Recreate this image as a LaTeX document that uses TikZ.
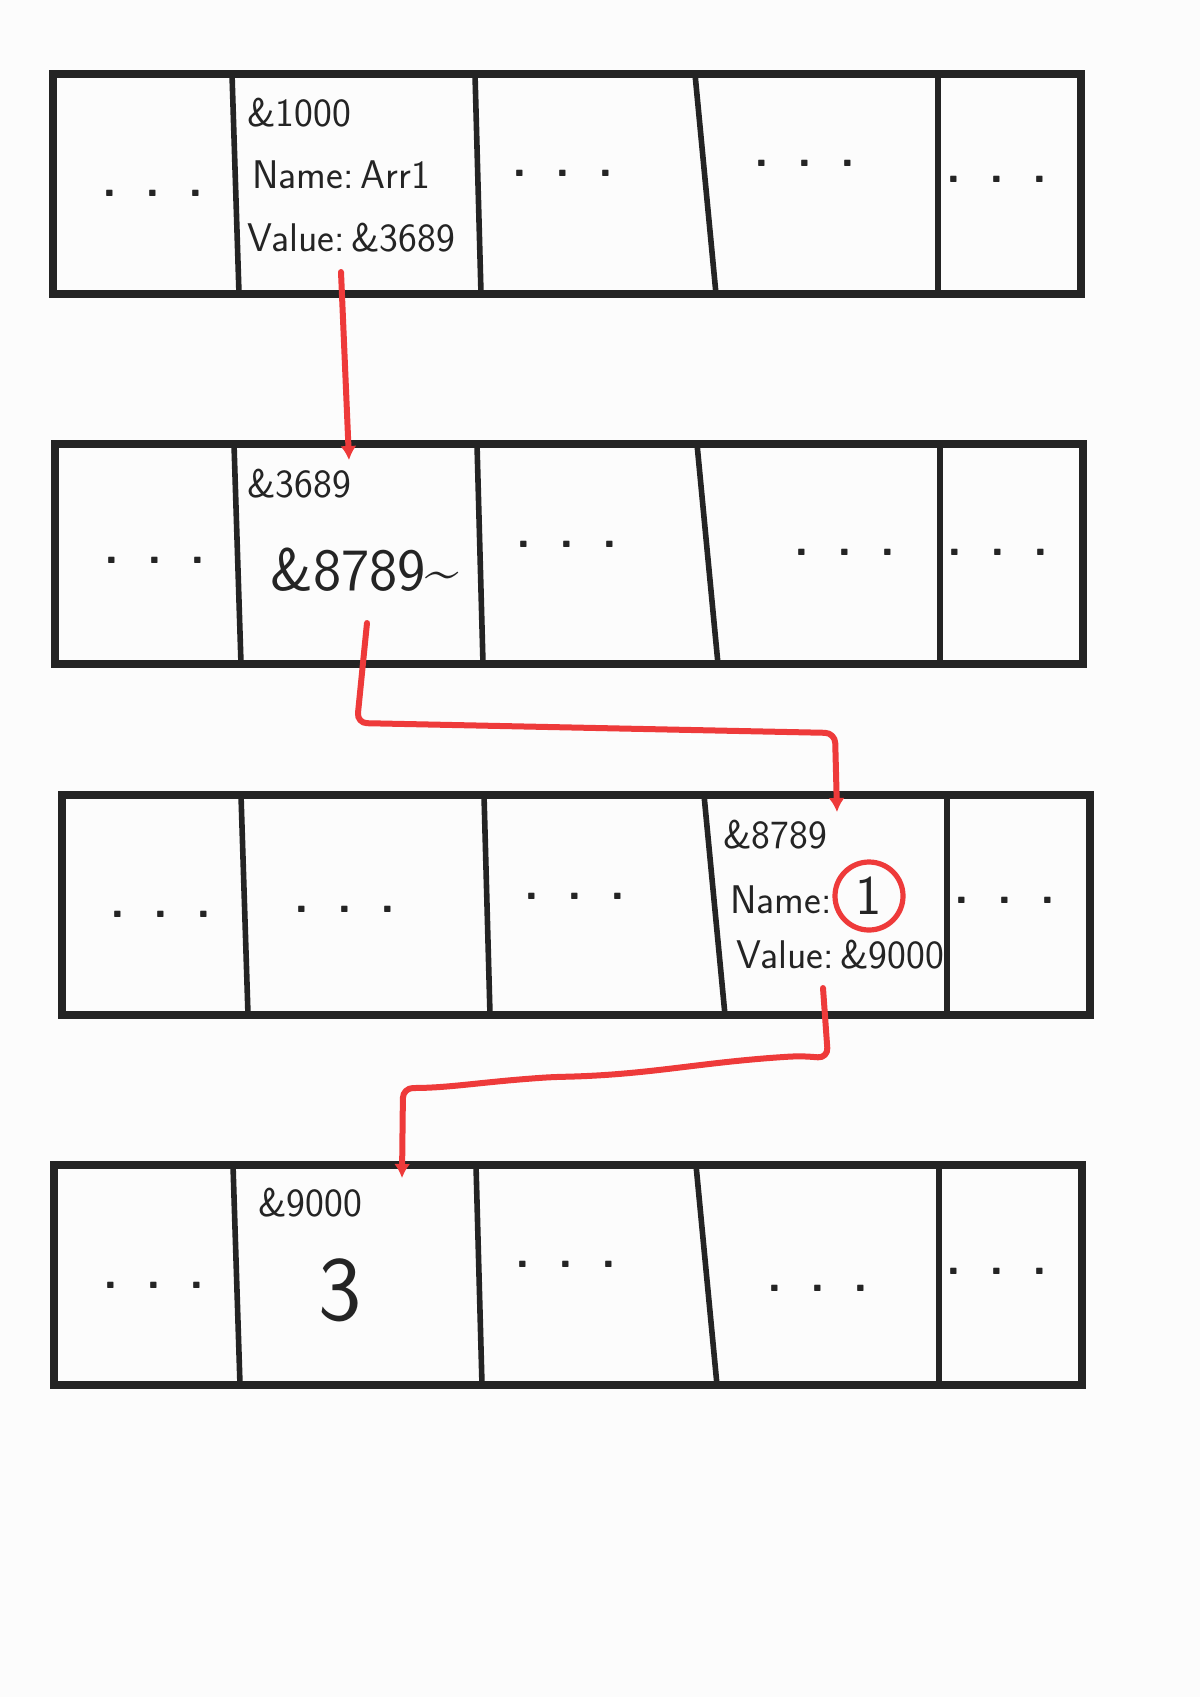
\documentclass[tikz,border=0pt]{standalone}
\usepackage{tikz}
\usetikzlibrary{arrows.meta,calc}
\definecolor{ink}{RGB}{36,36,36}
\definecolor{ptrred}{RGB}{238,58,58}
\definecolor{paper}{RGB}{252,252,252}
\newcommand{\gapdots}{.\hspace{14pt}.\hspace{14pt}.}

\begin{document}
\begin{tikzpicture}[x=0.5pt,y=-0.5pt,>={Latex[length=7pt,width=8pt]},
    memrow/.style={draw=ink,line width=4pt,minimum width=514pt,minimum height=110pt,inner sep=0pt,outer sep=0pt},
    cellline/.style={draw=ink,line width=2.8pt,line cap=round},
    cell/.style={text=ink,anchor=west,inner sep=0pt,font=\sffamily\fontsize{20}{24}\selectfont},
    big/.style={cell,font=\sffamily\fontsize{30}{36}\selectfont},
    huge/.style={text=ink,inner sep=0pt,font=\sffamily\fontsize{46}{52}\selectfont},
    dots/.style={text=ink,inner sep=0pt,font=\sffamily\bfseries\fontsize{24}{28}\selectfont},
    ptr/.style={->,draw=ptrred,line width=3pt,line cap=round,line join=round}]
  \fill[paper] (0,0) rectangle (1200,1697);
  \useasboundingbox (0,0) rectangle (1200,1697);
  % memory rows
  \node[memrow] (mem1) at (567,184) {};
  \node[memrow] (mem2) at (569,554) {};
  \node[memrow] (mem3) at (576,905) {};
  \node[memrow] (mem4) at (568,1275) {};
  \foreach \r in {mem1,mem2,mem3,mem4}
    \foreach \dx/\sl in {179/7,422/6,642/21,885/0}
      \draw[cellline] ($(\r.north west)+(\dx,0)$) -- ($(\r.south west)+(\dx+\sl,0)$);

  % row 1
  \node[cell] (a1000) at (247,113) {\&1000};
  \node[cell] (n1) at (252,175) {Name:\,Arr1};
  \node[cell] (v1) at (247,238) {Value:\,\&3689};
  \node[dots] (d11) at (153,193) {\gapdots};
  \node[dots] (d13) at (563,173) {\gapdots};
  \node[dots] (d14) at (805,163) {\gapdots};
  \node[dots] (d15) at (997,179) {\gapdots};

  % row 2
  \node[cell] (a3689) at (247,484) {\&3689};
  \node[big] (p8789) at (270,570) {\&8789\textasciitilde};
  \node[dots] (d21) at (155,560) {\gapdots};
  \node[dots] (d23) at (567,544) {\gapdots};
  \node[dots] (d24) at (845,552) {\gapdots};
  \node[dots] (d25) at (998,552) {\gapdots};

  % row 3
  \node[cell] (a8789) at (723,835) {\&8789};
  \node[cell] (n3) at (730,900) {Name:};
  \node[cell,anchor=center,circle,draw=ptrred,line width=2.6pt,minimum size=34pt,
    font=\sffamily\fontsize{28}{32}\selectfont] (one) at (869,896) {1};
  \node[cell] (v3) at (736,955) {Value:\,\&9000};
  \node[dots] (d31) at (161,914) {\gapdots};
  \node[dots] (d32) at (345,909) {\gapdots};
  \node[dots] (d33) at (575,896) {\gapdots};
  \node[dots] (d35) at (1005,900) {\gapdots};

  % row 4
  \node[cell] (a9000) at (258,1203) {\&9000};
  \node[huge] (val3) at (340,1290) {3};
  \node[dots] (d41) at (154,1285) {\gapdots};
  \node[dots] (d43) at (566,1264) {\gapdots};
  \node[dots] (d44) at (818,1288) {\gapdots};
  \node[dots] (d45) at (997,1271) {\gapdots};

  % pointers
  \coordinate (p1s) at (341,272);
  \coordinate (p1e) at (349,460);
  \coordinate (p2s) at (367,623);
  \coordinate (p2e) at (837,812);
  \coordinate (p3s) at (823,988);
  \coordinate (p3e) at (402,1178);
  \draw[ptr] (p1s) -- (p1e);
  \draw[ptr,rounded corners=5pt] (p2s) -- (357,723) -- (835,733) -- (p2e);
  \draw[ptr,rounded corners=5pt] (p3s) -- (828,1058) -- (800,1056)
    .. controls (700,1062) and (650,1075) .. (553,1077)
    .. controls (480,1082) and (450,1088) .. (403,1088) -- (p3e);
\end{tikzpicture}
\end{document}
